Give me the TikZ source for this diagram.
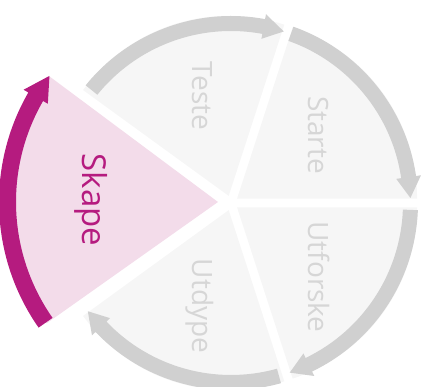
\documentclass[tikz,border=0pt]{standalone}
\usepackage{fontspec}
\setmainfont{Open Sans}
\usetikzlibrary{calc}
\definecolor{segfill}{HTML}{F6F6F6}
\definecolor{bandgray}{HTML}{D0D0D0}
\definecolor{txtgray}{HTML}{D6D6D6}
\definecolor{pinkfill}{HTML}{F3DCEA}
\definecolor{mag}{HTML}{B51B7F}
% #1 colour, #2 centre, #3 inner r, #4 outer r, #5 start angle, #6 head base angle, #7 tip angle, #8 head overhang
\newcommand{\bandarrow}[8]{%
  \fill[#1] ($(#2)+(#5:#4)$) arc[start angle=#5,end angle=#6,radius=#4]
    -- ($(#2)+(#6:{#4+#8})$) -- ($(#2)+(#7:{(#3+#4)/2})$) -- ($(#2)+(#6:{#3-#8})$)
    -- ($(#2)+(#6:#3)$) arc[start angle=#6,end angle=#5,radius=#3] -- cycle;}
\begin{document}
\begin{tikzpicture}[x=1pt,y=1pt,
  gtext/.style={rotate=-90,anchor=base,inner sep=0pt,text=txtgray,font=\fontsize{28}{33}\selectfont},
  mtext/.style={rotate=-90,anchor=base,inner sep=0pt,text=mag,font=\fontsize{33}{38}\selectfont}]
\useasboundingbox (0,0) rectangle (433,387);
\coordinate (C) at (231,184);
\coordinate (A) at (218,185);
\coordinate (PS) at ($(C)+(36:7.5)$);
\coordinate (PT) at ($(C)+(108:7.5)$);
\coordinate (PD) at ($(C)+(252:7.5)$);
\coordinate (PU) at ($(C)+(324:7.5)$);
% grey sectors
\fill[segfill] (PS) -- ($(PS)+(0:180)$) arc[start angle=0,end angle=72,radius=180] -- cycle;
\fill[segfill] (PT) -- ($(PT)+(72:180)$) arc[start angle=72,end angle=144,radius=180] -- cycle;
\fill[segfill] (PD) -- ($(PD)+(216:180)$) arc[start angle=216,end angle=288,radius=180] -- cycle;
\fill[segfill] (PU) -- ($(PU)+(288:180)$) arc[start angle=288,end angle=360,radius=180] -- cycle;
% highlighted sector
\fill[pinkfill] (A) -- ($(A)+(143.3:210)$) arc[start angle=143.3,end angle=215.3,radius=210] -- cycle;
% arrows
\bandarrow{bandgray}{C}{172}{187}{141}{79.5}{72.9}{5}
\bandarrow{bandgray}{C}{172}{187}{70.5}{8.3}{1.6}{5}
\bandarrow{bandgray}{C}{172}{187}{-2.2}{-64.3}{-70.9}{5}
\bandarrow{bandgray}{C}{172}{187}{-74.5}{-136.4}{-142.9}{5}
\bandarrow{mag}{A}{202}{219}{215}{150}{143.2}{5.5}
% labels
\node[gtext] (teste) at (192,291) {Teste};
\node[gtext] (starte) at (308,252) {Starte};
\node[gtext] (utforske) at (308,110) {Utforske};
\node[gtext] (utdype) at (192,81) {Utdype};
\node[mtext] (skape) at (82,187) {Skape};
\end{tikzpicture}
\end{document}
